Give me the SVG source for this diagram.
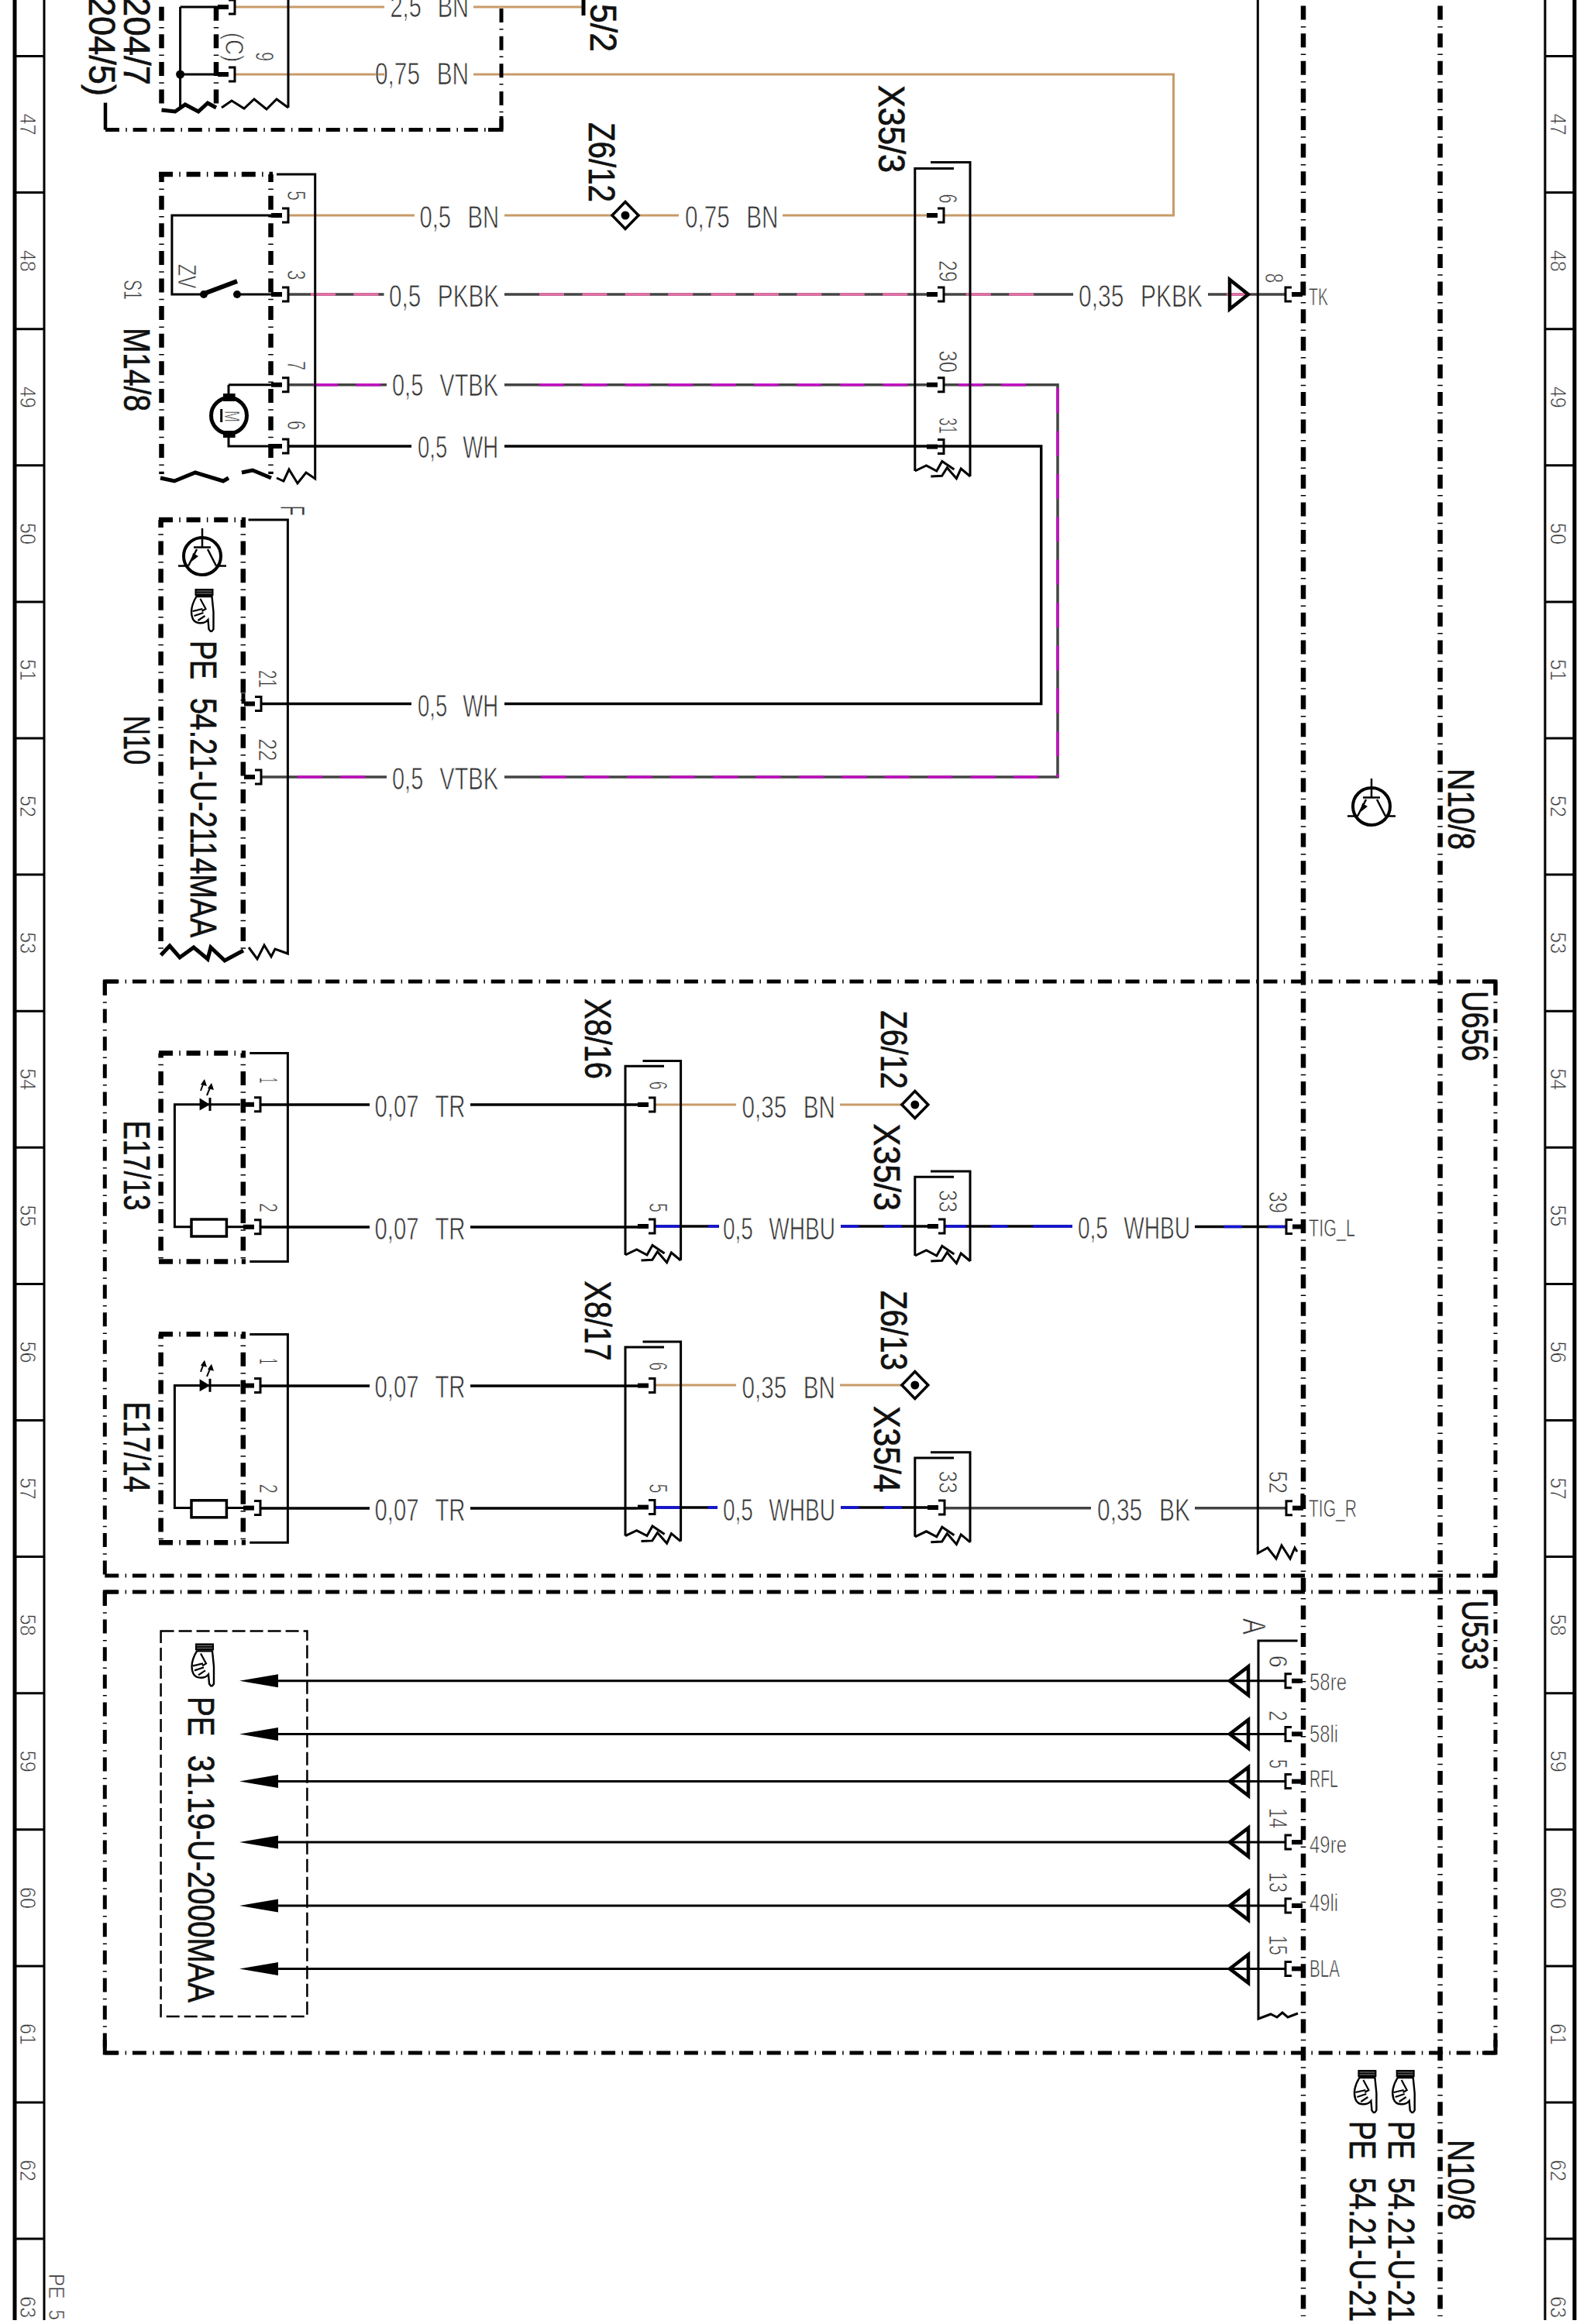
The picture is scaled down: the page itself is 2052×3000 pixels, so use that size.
<svg xmlns="http://www.w3.org/2000/svg" xmlns:xlink="http://www.w3.org/1999/xlink" width="2052" height="3000" viewBox="0 0 2052 3000">
<style>
text{font-family:"Liberation Sans",Arial,sans-serif;white-space:pre}
.t{font-family:"Liberation Sans",Arial,sans-serif;fill:#333;stroke:#fff;stroke-width:.75}
.wl{font-size:40px;word-spacing:.45em}
.r{font-size:30px}
.p{font-size:34px}
.pl{font-size:31px}
.b{font-size:49px;fill:#111;stroke:#111;stroke-width:.7;word-spacing:.35em}
.l{fill:none;stroke:#000;stroke-width:3}
.rail{fill:none;stroke:#000;stroke-width:3}
.dd{fill:none;stroke:#000;stroke-width:6.5;stroke-dasharray:18 8.3 1.5 7.8}
.dh{fill:none;stroke:#000;stroke-width:5;stroke-dasharray:18 8.3 1.5 7.8}
.k{fill:none;stroke:#000;stroke-width:5}
.w{fill:none;stroke-width:3.5}
.blk{stroke:#000}.gry{stroke:#444}.bn{stroke:#c89b69;stroke-width:3}
.pk{stroke:#e56fa8;stroke-dasharray:32 23.4}.mg{stroke:#c010c0;stroke-dasharray:32 23.4}
.pk0{stroke:#e56fa8}.bu{stroke:#1414d8}
</style>
<defs>
<g id="pinR"><rect x="0" y="-3" width="14" height="6" fill="#000"/><path d="M14-9H22V9H14" fill="none" stroke="#000" stroke-width="3"/></g>
<g id="pinL"><rect x="8" y="-3" width="14" height="6" fill="#000"/><path d="M8-9H0V9H8" fill="none" stroke="#000" stroke-width="3"/></g>
<g id="cbot" fill="none" stroke="#000" stroke-width="3"><path d="M0 0L14.7-7L28 0L35-12.6L50.6-2"/><path d="M71.4 7L59.4-3L53.6 9.7L41.5-4.2L34.8 6.3L20.5 7"/></g>
<g id="diamond"><path d="M0-17.5L17 0L0 17.5L-17 0Z" fill="#fff" stroke="#000" stroke-width="3.5"/><circle r="5.5" fill="#000"/></g>
<g id="transistor" fill="none" stroke="#000"><circle r="24" stroke-width="4"/><path d="M0-36V-11.5M-11-11.5H11M-7-9L-18 12.5M7-9L18 12.5M-31 12.5H-18M18 12.5H31" stroke-width="2.5"/><path d="M-14 7L-12-4L-5 0Z" fill="#000" stroke="none"/></g>
<g id="hand"><rect x="6" y="0" width="24" height="9" fill="#000"/><path d="M8 3H28M8 6H28" stroke="#888" stroke-width="1"/><path d="M8 10H28L30 30V52Q27 58 24 52L23 40C18 46 6 46 3 38C0 30 2 20 8 10Z" fill="#fff" stroke="#000" stroke-width="2.4"/><path d="M3 29L16 26M5 35L17 31M10 41L19 35M13 13L20 26L15 29" fill="none" stroke="#000" stroke-width="2.2"/></g>
<g id="hollow"><path d="M24-18.4V18.4L0 0Z" fill="none" stroke="#000" stroke-width="4.5"/></g>
<polygon id="ahead" points="0,0 50,-8.5 50,8.5" fill="#000"/>
</defs>

<g id="frame">
<path d="M19 0V2995M2032 0V2995" fill="none" stroke="#000" stroke-width="5"/>
<path d="M57 0V2995M1994 0V2995" class="rail"/>
<path d="M19 72.5H57M19 248.6H57M19 424.7H57M19 600.8H57M19 776.9H57M19 953H57M19 1129.1H57M19 1305.2H57M19 1481.3H57M19 1657.4H57M19 1833.5H57M19 2009.6H57M19 2185.7H57M19 2361.8H57M19 2537.9H57M19 2714H57M19 2890.1H57M1994 72.5H2032M1994 248.6H2032M1994 424.7H2032M1994 600.8H2032M1994 776.9H2032M1994 953H2032M1994 1129.1H2032M1994 1305.2H2032M1994 1481.3H2032M1994 1657.4H2032M1994 1833.5H2032M1994 2009.6H2032M1994 2185.7H2032M1994 2361.8H2032M1994 2537.9H2032M1994 2714H2032M1994 2890.1H2032" class="rail"/>
<g class="t r">
<text transform="translate(26,146.6) rotate(90)" textLength="28" lengthAdjust="spacingAndGlyphs">47</text>
<text transform="translate(26,322.7) rotate(90)" textLength="28" lengthAdjust="spacingAndGlyphs">48</text>
<text transform="translate(26,498.8) rotate(90)" textLength="28" lengthAdjust="spacingAndGlyphs">49</text>
<text transform="translate(26,674.9) rotate(90)" textLength="28" lengthAdjust="spacingAndGlyphs">50</text>
<text transform="translate(26,851) rotate(90)" textLength="28" lengthAdjust="spacingAndGlyphs">51</text>
<text transform="translate(26,1027.1) rotate(90)" textLength="28" lengthAdjust="spacingAndGlyphs">52</text>
<text transform="translate(26,1203.2) rotate(90)" textLength="28" lengthAdjust="spacingAndGlyphs">53</text>
<text transform="translate(26,1379.3) rotate(90)" textLength="28" lengthAdjust="spacingAndGlyphs">54</text>
<text transform="translate(26,1555.4) rotate(90)" textLength="28" lengthAdjust="spacingAndGlyphs">55</text>
<text transform="translate(26,1731.5) rotate(90)" textLength="28" lengthAdjust="spacingAndGlyphs">56</text>
<text transform="translate(26,1907.6) rotate(90)" textLength="28" lengthAdjust="spacingAndGlyphs">57</text>
<text transform="translate(26,2083.7) rotate(90)" textLength="28" lengthAdjust="spacingAndGlyphs">58</text>
<text transform="translate(26,2259.8) rotate(90)" textLength="28" lengthAdjust="spacingAndGlyphs">59</text>
<text transform="translate(26,2435.9) rotate(90)" textLength="28" lengthAdjust="spacingAndGlyphs">60</text>
<text transform="translate(26,2612) rotate(90)" textLength="28" lengthAdjust="spacingAndGlyphs">61</text>
<text transform="translate(26,2788.1) rotate(90)" textLength="28" lengthAdjust="spacingAndGlyphs">62</text>
<text transform="translate(26,2964.2) rotate(90)" textLength="28" lengthAdjust="spacingAndGlyphs">63</text>
<text transform="translate(2001,146.6) rotate(90)" textLength="28" lengthAdjust="spacingAndGlyphs">47</text>
<text transform="translate(2001,322.7) rotate(90)" textLength="28" lengthAdjust="spacingAndGlyphs">48</text>
<text transform="translate(2001,498.8) rotate(90)" textLength="28" lengthAdjust="spacingAndGlyphs">49</text>
<text transform="translate(2001,674.9) rotate(90)" textLength="28" lengthAdjust="spacingAndGlyphs">50</text>
<text transform="translate(2001,851) rotate(90)" textLength="28" lengthAdjust="spacingAndGlyphs">51</text>
<text transform="translate(2001,1027.1) rotate(90)" textLength="28" lengthAdjust="spacingAndGlyphs">52</text>
<text transform="translate(2001,1203.2) rotate(90)" textLength="28" lengthAdjust="spacingAndGlyphs">53</text>
<text transform="translate(2001,1379.3) rotate(90)" textLength="28" lengthAdjust="spacingAndGlyphs">54</text>
<text transform="translate(2001,1555.4) rotate(90)" textLength="28" lengthAdjust="spacingAndGlyphs">55</text>
<text transform="translate(2001,1731.5) rotate(90)" textLength="28" lengthAdjust="spacingAndGlyphs">56</text>
<text transform="translate(2001,1907.6) rotate(90)" textLength="28" lengthAdjust="spacingAndGlyphs">57</text>
<text transform="translate(2001,2083.7) rotate(90)" textLength="28" lengthAdjust="spacingAndGlyphs">58</text>
<text transform="translate(2001,2259.8) rotate(90)" textLength="28" lengthAdjust="spacingAndGlyphs">59</text>
<text transform="translate(2001,2435.9) rotate(90)" textLength="28" lengthAdjust="spacingAndGlyphs">60</text>
<text transform="translate(2001,2612) rotate(90)" textLength="28" lengthAdjust="spacingAndGlyphs">61</text>
<text transform="translate(2001,2788.1) rotate(90)" textLength="28" lengthAdjust="spacingAndGlyphs">62</text>
<text transform="translate(2001,2964.2) rotate(90)" textLength="28" lengthAdjust="spacingAndGlyphs">63</text>
<text transform="translate(62.5,2935) rotate(90)" textLength="60" lengthAdjust="spacingAndGlyphs" style="word-spacing:.3em">PE 5</text>
</g>
</g>

<g id="connectors">
<path class="w bn" d="M302 9H496M611 9H753M302 96H496M611 96H1514.5V278H1219M372 278H535M651 278H876M1010 278H1196M846 1426H950M1084 1426H1181M846 1788H950M1084 1788H1181"/>
<path class="w gry" d="M372 380H495.5M651 380H1196M1219 380H1385M1559 380H1660M372 496.7H499M651 496.7H1196M1219 496.7H1365V1003H651M337 1003H499M1219 1946.7H1408M1542 1946.7H1660"/>
<path class="w pk" d="M401 380H490M696 380H1173M1246.8 380H1336"/>
<path class="w pk0" d="M1583 380H1614"/>
<path class="w mg" d="M404 496.7H492M696 496.7H1173M1237 496.7H1324M1365 501V1003M698.6 1003H1360M384 1003H472"/>
<path class="w blk" d="M372 576H531M651 576H1343.7V908.5H651M337 908.5H531M336 1426H477M607 1426H823M336 1584H477M607 1584H823M336 1789H477M607 1789H823M336 1947H477M607 1947H823M846 1583H928M1085 1583H1197M1219 1583H1384M1542 1583.5H1660M846 1946H926M1085 1946H1197"/>
<path class="w bu" d="M846 1583H878.6M913.4 1583H927.7M1085 1583H1108.5M1140.6 1583H1164M1219 1583H1247M1279 1583H1300.4M1333 1583H1384M1579.6 1583.5H1603M1636 1583.5H1660M846 1946H878.6M913.4 1946H926M1085 1946H1108.5M1140.6 1946H1164"/>
<path class="w blk" d="M753 0V20" style="stroke-width:5"/>
<path class="w blk" d="M359 2169.8H1659M359 2238.4H1659M359 2299.6H1659M359 2378H1659M359 2460H1659M359 2541.4H1659" style="stroke-width:3"/>
<use href="#ahead" x="309" y="2169.8"/><use href="#ahead" x="309" y="2238.4"/><use href="#ahead" x="309" y="2299.6"/><use href="#ahead" x="309" y="2378"/><use href="#ahead" x="309" y="2460"/><use href="#ahead" x="309" y="2541.4"/>
<use href="#hollow" x="1587" y="2169.8"/><use href="#hollow" x="1587" y="2238.4"/><use href="#hollow" x="1587" y="2299.6"/><use href="#hollow" x="1587" y="2378"/><use href="#hollow" x="1587" y="2460"/><use href="#hollow" x="1587" y="2541.4"/>
<path d="M1587 361V399L1611 380Z" fill="none" stroke="#000" stroke-width="4.5"/>
<g class="t wl">
<text x="503.5" y="22" textLength="101.5" lengthAdjust="spacingAndGlyphs">2,5 BN</text>
<text x="484" y="108.5" textLength="121" lengthAdjust="spacingAndGlyphs">0,75 BN</text>
<text x="541.5" y="294" textLength="102.5" lengthAdjust="spacingAndGlyphs">0,5 BN</text>
<text x="884" y="294" textLength="120.5" lengthAdjust="spacingAndGlyphs">0,75 BN</text>
<text x="502" y="395.5" textLength="142" lengthAdjust="spacingAndGlyphs">0,5 PKBK</text>
<text x="1392" y="395.5" textLength="160" lengthAdjust="spacingAndGlyphs">0,35 PKBK</text>
<text x="506" y="511" textLength="137" lengthAdjust="spacingAndGlyphs">0,5 VTBK</text>
<text x="539" y="591" textLength="104" lengthAdjust="spacingAndGlyphs">0,5 WH</text>
<text x="539" y="925" textLength="104" lengthAdjust="spacingAndGlyphs">0,5 WH</text>
<text x="506" y="1019" textLength="137" lengthAdjust="spacingAndGlyphs">0,5 VTBK</text>
<text x="483.5" y="1442" textLength="117" lengthAdjust="spacingAndGlyphs">0,07 TR</text>
<text x="483.5" y="1600" textLength="117" lengthAdjust="spacingAndGlyphs">0,07 TR</text>
<text x="483.5" y="1804" textLength="117" lengthAdjust="spacingAndGlyphs">0,07 TR</text>
<text x="483.5" y="1963" textLength="117" lengthAdjust="spacingAndGlyphs">0,07 TR</text>
<text x="957.6" y="1443" textLength="120.4" lengthAdjust="spacingAndGlyphs">0,35 BN</text>
<text x="957.6" y="1805" textLength="120.4" lengthAdjust="spacingAndGlyphs">0,35 BN</text>
<text x="933" y="1600" textLength="145" lengthAdjust="spacingAndGlyphs">0,5 WHBU</text>
<text x="933" y="1963" textLength="145" lengthAdjust="spacingAndGlyphs">0,5 WHBU</text>
<text x="1391" y="1599" textLength="145" lengthAdjust="spacingAndGlyphs">0,5 WHBU</text>
<text x="1416" y="1963" textLength="120" lengthAdjust="spacingAndGlyphs">0,35 BK</text>
</g>
</g>

<g id="outer-top">
<path class="l" d="M136 132.6V167.5" style="stroke-width:4.5"/>
<path class="dh" d="M136 167.5H647"/>
<path class="dh" d="M647 167.5V6" style="stroke-dashoffset:4"/>
<path d="M647 150V167.5H630" fill="none" stroke="#000" stroke-width="5"/>
</g>

<g id="top-block">
<path class="dd" d="M208.5 8.7V139"/><path class="dd" d="M279 8.7V139"/>
<path class="l" d="M232.6 9V139M232.6 9H281M232.6 96H281"/>
<path class="l" d="M372 0V139"/>
<circle cx="232.6" cy="96" r="5.5"/>
<path class="k" d="M208.5 142L226 144L239 135L256 144L268 133L279 139"/>
<path class="l" d="M286 139L299 130L315 140L328 128L344 141L357 128L372 139"/>
<use href="#pinR" x="281" y="9"/><use href="#pinR" x="281" y="96"/>
<g class="t p"><text transform="translate(330,67) rotate(90)" textLength="12" lengthAdjust="spacingAndGlyphs">9</text><text transform="translate(291,42) rotate(90)" textLength="38" lengthAdjust="spacingAndGlyphs">(C)</text></g>
<g class="b"><text transform="translate(160,-4) rotate(90)" textLength="114" lengthAdjust="spacingAndGlyphs">204/7</text><text transform="translate(115,-4) rotate(90)" textLength="128" lengthAdjust="spacingAndGlyphs">204/5)</text><text transform="translate(762,5) rotate(90)" textLength="62" lengthAdjust="spacingAndGlyphs">5/2</text></g>
</g>

<g id="M14-8">
<path class="dd" d="M208.5 225V612" style="stroke-dashoffset:7.9"/><path class="dd" d="M349.5 225V612" style="stroke-dashoffset:7.9"/>
<path class="dd" d="M205 225H352"/>
<path class="l" d="M357 225H406.7V618L395 610L384 624L373 606L366 621L357 617"/>
<path class="k" d="M207 617L225 621L252 610L288 621L295 617M312 610L326 607L350 617"/>
<path class="l" d="M350 278H221.9V380H263M306 380H350M295 496.7H350M295 496.7V510M295 563V576H350"/>
<path d="M263.4 379L306 363" fill="none" stroke="#000" stroke-width="6"/>
<circle cx="263" cy="380" r="5"/><circle cx="306" cy="380" r="5"/>
<circle cx="295.5" cy="536.6" r="23" fill="#fff" stroke="#000" stroke-width="5"/>
<rect x="288" y="508" width="15.6" height="10"/><rect x="288" y="556" width="15.6" height="9"/>
<path class="l" d="M285.7 528V545"/>
<text class="t" transform="translate(290,530) rotate(90)" font-size="28" textLength="15" lengthAdjust="spacingAndGlyphs">M</text>
<use href="#pinR" x="350" y="278"/><use href="#pinR" x="350" y="380"/><use href="#pinR" x="350" y="496.7"/><use href="#pinR" x="350" y="576"/>
<g class="t p">
<text transform="translate(371,246) rotate(90)" textLength="13" lengthAdjust="spacingAndGlyphs">5</text>
<text transform="translate(371,348.5) rotate(90)" textLength="13" lengthAdjust="spacingAndGlyphs">3</text>
<text transform="translate(371,466) rotate(90)" textLength="12" lengthAdjust="spacingAndGlyphs">7</text>
<text transform="translate(371,543) rotate(90)" textLength="12" lengthAdjust="spacingAndGlyphs">6</text>
<text transform="translate(230,341) rotate(90)" textLength="31.5" lengthAdjust="spacingAndGlyphs">ZV</text>
<text transform="translate(160,361) rotate(90)" textLength="26" lengthAdjust="spacingAndGlyphs">S1</text>
</g>
<text class="b" transform="translate(160,423) rotate(90)" textLength="108" lengthAdjust="spacingAndGlyphs">M14/8</text>
</g>

<g id="N10">
<path class="dd" d="M207.6 671V1229" style="stroke-dashoffset:8"/><path class="dd" d="M313.8 671V1229" style="stroke-dashoffset:8"/>
<path class="dd" d="M205 671H317"/>
<path class="l" d="M320.5 671H371.4V1231L355 1225L350 1235L341 1220L332 1238L321 1223"/>
<path class="k" d="M207.6 1233L219 1221L232 1236L250 1223L268 1238L272 1223L290 1240L314 1227"/>
<use href="#transistor" x="261" y="718"/>
<use href="#hand" x="245.5" y="760"/>
<use href="#pinR" x="315" y="908.5"/><use href="#pinR" x="315" y="1003"/>
<path class="k" d="M314 895V908.5"/>
<g class="t p">
<text transform="translate(334,865) rotate(90)" textLength="23" lengthAdjust="spacingAndGlyphs">21</text>
<text transform="translate(334,953.6) rotate(90)" textLength="29" lengthAdjust="spacingAndGlyphs">22</text>
<text transform="translate(362,652.6) rotate(90)" textLength="13" lengthAdjust="spacingAndGlyphs" style="font-size:44px">F</text>
</g>
<g class="b">
<text transform="translate(245.5,827) rotate(90)" textLength="383" lengthAdjust="spacingAndGlyphs">PE 54.21-U-2114MAA</text>
<text transform="translate(160,924) rotate(90)" textLength="63" lengthAdjust="spacingAndGlyphs">N10</text>
</g>
</g>

<g id="N10-8">
<path class="dd" d="M1682 7.6V2990"/><path class="dd" d="M1858.6 7.6V2990"/>
<path class="l" d="M1623.3 0V2005L1636 1998L1647 2012L1654 1995L1665 2012L1671 1998L1674 2003"/>
<use href="#transistor" x="1770" y="1041"/>
<use href="#pinL" x="1659" y="380"/><use href="#pinL" x="1660" y="1583.5"/><use href="#pinL" x="1660" y="1946.7"/>
<path class="k" d="M1681 364V380M1681 1928V1946.7"/>
<g class="t p">
<text transform="translate(1633,352.7) rotate(90)" textLength="12.5" lengthAdjust="spacingAndGlyphs">8</text>
<text transform="translate(1638,1538) rotate(90)" textLength="28" lengthAdjust="spacingAndGlyphs">39</text>
<text transform="translate(1638,1899) rotate(90)" textLength="29" lengthAdjust="spacingAndGlyphs">52</text>
</g>
<g class="t pl">
<text x="1689" y="393.5" textLength="25" lengthAdjust="spacingAndGlyphs">TK</text>
<text x="1689" y="1596" textLength="60" lengthAdjust="spacingAndGlyphs">TIG_L</text>
<text x="1689" y="1958" textLength="62" lengthAdjust="spacingAndGlyphs">TIG_R</text>
</g>
<use href="#hand" x="1795.7" y="2672"/><use href="#hand" x="1746.4" y="2672"/>
<g class="b">
<text transform="translate(1869,992) rotate(90)" textLength="105" lengthAdjust="spacingAndGlyphs">N10/8</text>
<text transform="translate(1869,2762) rotate(90)" textLength="104" lengthAdjust="spacingAndGlyphs">N10/8</text>
<text transform="translate(1742,2738) rotate(90)" textLength="259" lengthAdjust="spacingAndGlyphs">PE 54.21-U-21</text>
<text transform="translate(1792,2738) rotate(90)" textLength="259" lengthAdjust="spacingAndGlyphs">PE 54.21-U-21</text>
</g>
</g>

<g id="X35-3-a">
<path class="l" d="M1231 217.6H1180.8V608M1201 209.6H1252V615"/>
<use href="#cbot" x="1180.8" y="608"/>
<use href="#pinR" x="1196" y="278"/><use href="#pinR" x="1196" y="380"/><use href="#pinR" x="1196" y="496.7"/><use href="#pinR" x="1196" y="576.6"/>
<g class="t p">
<text transform="translate(1212,250.4) rotate(90)" textLength="12" lengthAdjust="spacingAndGlyphs">6</text>
<text transform="translate(1212,336) rotate(90)" textLength="28" lengthAdjust="spacingAndGlyphs">29</text>
<text transform="translate(1212,452.5) rotate(90)" textLength="28.5" lengthAdjust="spacingAndGlyphs">30</text>
<text transform="translate(1212,539) rotate(90)" textLength="21" lengthAdjust="spacingAndGlyphs">31</text>
</g>
<text class="b" transform="translate(1134,110) rotate(90)" textLength="113" lengthAdjust="spacingAndGlyphs">X35/3</text>
</g>

<g id="Z6-12-a"><use href="#diamond" x="807" y="278"/><text class="b" transform="translate(760,158) rotate(90)" textLength="103" lengthAdjust="spacingAndGlyphs">Z6/12</text></g>

<g id="U656">
<path class="dh" d="M135.3 1267H1930"/>
<path class="dh" d="M135.3 2034H1930"/>
<path class="dh" d="M135.3 1267V2034"/>
<path class="dh" d="M1930 1267V2034"/>
<path d="M135.3 1284V1267H152M1913 1267H1930V1284M1930 2016V2034H1913" fill="none" stroke="#000" stroke-width="5"/>
<text class="b" transform="translate(1886.5,1279) rotate(90)" textLength="91" lengthAdjust="spacingAndGlyphs">U656</text>
</g>

<g id="E17-13">
<path class="dd" d="M207.6 1359.4V1628.4" style="stroke-dashoffset:12"/><path class="dd" d="M313.8 1359.4V1628.4" style="stroke-dashoffset:12"/>
<path class="dd" d="M205 1359.4H317"/><path class="dd" d="M205 1628.4H317"/>
<path class="l" d="M322.3 1359.6H371.4V1628.4H322.3"/>
<path class="l" d="M310 1425.8H225.4V1583.8H247M292 1583.8H314"/>
<path d="M257.6 1417.5L271 1425.8L257.6 1433.5Z"/><path class="l" d="M271 1417V1434"/>
<path d="M263.4 1396L259 1408M272.3 1401L267 1414" fill="none" stroke="#000" stroke-width="2"/><path d="M264 1393L267 1402L259 1400ZM273 1398L276 1407L268 1405Z"/>
<rect x="247" y="1574" width="45.4" height="22" fill="#fff" stroke="#000" stroke-width="3.5"/>
<use href="#pinR" x="314" y="1425.8"/><use href="#pinR" x="314" y="1583.8"/>
<g class="t p"><text transform="translate(335,1391) rotate(90)" textLength="7" lengthAdjust="spacingAndGlyphs">1</text><text transform="translate(335,1553) rotate(90)" textLength="12" lengthAdjust="spacingAndGlyphs">2</text></g>
<text class="b" transform="translate(160,1446.6) rotate(90)" textLength="116" lengthAdjust="spacingAndGlyphs">E17/13</text>
</g>

<g id="E17-14" transform="translate(0,362.8)">
<path class="dd" d="M207.6 1359.4V1628.4" style="stroke-dashoffset:12"/><path class="dd" d="M313.8 1359.4V1628.4" style="stroke-dashoffset:12"/>
<path class="dd" d="M205 1359.4H317"/><path class="dd" d="M205 1628.4H317"/>
<path class="l" d="M322.3 1359.6H371.4V1628.4H322.3"/>
<path class="l" d="M310 1425.8H225.4V1583.8H247M292 1583.8H314"/>
<path d="M257.6 1417.5L271 1425.8L257.6 1433.5Z"/><path class="l" d="M271 1417V1434"/>
<path d="M263.4 1396L259 1408M272.3 1401L267 1414" fill="none" stroke="#000" stroke-width="2"/><path d="M264 1393L267 1402L259 1400ZM273 1398L276 1407L268 1405Z"/>
<rect x="247" y="1574" width="45.4" height="22" fill="#fff" stroke="#000" stroke-width="3.5"/>
<use href="#pinR" x="314" y="1425.8"/><use href="#pinR" x="314" y="1583.8"/>
<g class="t p"><text transform="translate(335,1391) rotate(90)" textLength="7" lengthAdjust="spacingAndGlyphs">1</text><text transform="translate(335,1553) rotate(90)" textLength="12" lengthAdjust="spacingAndGlyphs">2</text></g>
<text class="b" transform="translate(160,1446.6) rotate(90)" textLength="117" lengthAdjust="spacingAndGlyphs">E17/14</text>
</g>

<g id="X8-16">
<path class="l" d="M857 1376.3H807V1620M829.5 1369.5H878.6V1627"/><use href="#cbot" x="807" y="1620"/>
<use href="#pinR" x="823" y="1426"/><use href="#pinR" x="823" y="1583"/>
<g class="t p"><text transform="translate(837.5,1395.7) rotate(90)" textLength="11" lengthAdjust="spacingAndGlyphs">6</text><text transform="translate(837.5,1553) rotate(90)" textLength="12" lengthAdjust="spacingAndGlyphs">5</text></g>
<text class="b" transform="translate(755,1289) rotate(90)" textLength="104" lengthAdjust="spacingAndGlyphs">X8/16</text>
</g>
<g id="X8-17" transform="translate(0,362.6)">
<path class="l" d="M857 1376.3H807V1620M829.5 1369.5H878.6V1627"/><use href="#cbot" x="807" y="1620"/>
<use href="#pinR" x="823" y="1426"/><use href="#pinR" x="823" y="1583"/>
<g class="t p"><text transform="translate(837.5,1395.7) rotate(90)" textLength="11" lengthAdjust="spacingAndGlyphs">6</text><text transform="translate(837.5,1553) rotate(90)" textLength="12" lengthAdjust="spacingAndGlyphs">5</text></g>
<text class="b" transform="translate(755,1291) rotate(90)" textLength="103" lengthAdjust="spacingAndGlyphs">X8/17</text>
</g>
<g id="Z6-12-b"><use href="#diamond" x="1180.8" y="1426"/><text class="b" transform="translate(1137,1304.6) rotate(90)" textLength="101" lengthAdjust="spacingAndGlyphs">Z6/12</text></g>
<g id="Z6-13"><use href="#diamond" x="1180.8" y="1788"/><text class="b" transform="translate(1137,1666) rotate(90)" textLength="103" lengthAdjust="spacingAndGlyphs">Z6/13</text></g>
<g id="X35-3-b">
<path class="l" d="M1231 1519.3H1180.8V1621M1201 1512H1252V1628"/><use href="#cbot" x="1180.8" y="1621"/>
<use href="#pinR" x="1197" y="1583"/>
<text class="t p" transform="translate(1212,1536) rotate(90)" textLength="29" lengthAdjust="spacingAndGlyphs">33</text>
<text class="b" transform="translate(1128,1450.5) rotate(90)" textLength="112.5" lengthAdjust="spacingAndGlyphs">X35/3</text>
</g>
<g id="X35-4">
<path class="l" d="M1231 1882.1H1180.8V1983.8M1201 1874.8H1252V1990.8"/><use href="#cbot" x="1180.8" y="1983.8"/>
<use href="#pinR" x="1197" y="1946"/>
<text class="t p" transform="translate(1212,1898.8) rotate(90)" textLength="29" lengthAdjust="spacingAndGlyphs">33</text>
<text class="b" transform="translate(1128,1815) rotate(90)" textLength="111.5" lengthAdjust="spacingAndGlyphs">X35/4</text>
</g>

<g id="U533">
<path class="dh" d="M135.3 2055H1930"/>
<path class="dh" d="M135.3 2650H1930"/>
<path class="dh" d="M135.3 2055V2650"/>
<path class="dh" d="M1930 2055V2650"/>
<path d="M135.3 2072V2055H152M1913 2055H1930V2072M135.3 2633V2650H152M1913 2650H1930V2633" fill="none" stroke="#000" stroke-width="5"/>
<text class="b" transform="translate(1886.5,2065.7) rotate(90)" textLength="90" lengthAdjust="spacingAndGlyphs">U533</text>
</g>
<g id="PE-31-19">
<rect x="207.6" y="2105.5" width="188.8" height="497.5" fill="none" stroke="#000" stroke-width="2.5" stroke-dasharray="17 6"/>
<use href="#hand" x="246" y="2121.4"/>
<text class="b" transform="translate(243,2190) rotate(90)" textLength="395" lengthAdjust="spacingAndGlyphs">PE 31.19-U-2000MAA</text>
</g>
<g id="A-connector">
<path class="l" d="M1674.6 2118H1624V2606L1640 2600L1648 2604L1655 2598L1662 2604L1675 2599"/>
<use href="#pinL" x="1659" y="2169.8"/><use href="#pinL" x="1659" y="2238.4"/><use href="#pinL" x="1659" y="2299.6"/><use href="#pinL" x="1659" y="2378"/><use href="#pinL" x="1659" y="2460"/><use href="#pinL" x="1659" y="2541.4"/>
<g class="t p">
<text transform="translate(1604,2089) rotate(90)" textLength="21" lengthAdjust="spacingAndGlyphs" style="font-size:42px">A</text>
<text transform="translate(1638,2136.7) rotate(90)" textLength="16" lengthAdjust="spacingAndGlyphs">6</text>
<text transform="translate(1638,2208) rotate(90)" textLength="14" lengthAdjust="spacingAndGlyphs">2</text>
<text transform="translate(1638,2271) rotate(90)" textLength="12" lengthAdjust="spacingAndGlyphs">5</text>
<text transform="translate(1638,2334) rotate(90)" textLength="26" lengthAdjust="spacingAndGlyphs">14</text>
<text transform="translate(1638,2416.5) rotate(90)" textLength="26.5" lengthAdjust="spacingAndGlyphs">13</text>
<text transform="translate(1638,2498) rotate(90)" textLength="26" lengthAdjust="spacingAndGlyphs">15</text>
</g>
<g class="t pl">
<text x="1690" y="2182" textLength="48" lengthAdjust="spacingAndGlyphs">58re</text>
<text x="1690" y="2249" textLength="37" lengthAdjust="spacingAndGlyphs">58li</text>
<text x="1690" y="2307" textLength="37" lengthAdjust="spacingAndGlyphs">RFL</text>
<text x="1690" y="2392" textLength="48" lengthAdjust="spacingAndGlyphs">49re</text>
<text x="1690" y="2467" textLength="37" lengthAdjust="spacingAndGlyphs">49li</text>
<text x="1690" y="2552" textLength="39" lengthAdjust="spacingAndGlyphs">BLA</text>
</g>
</g>
</svg>
